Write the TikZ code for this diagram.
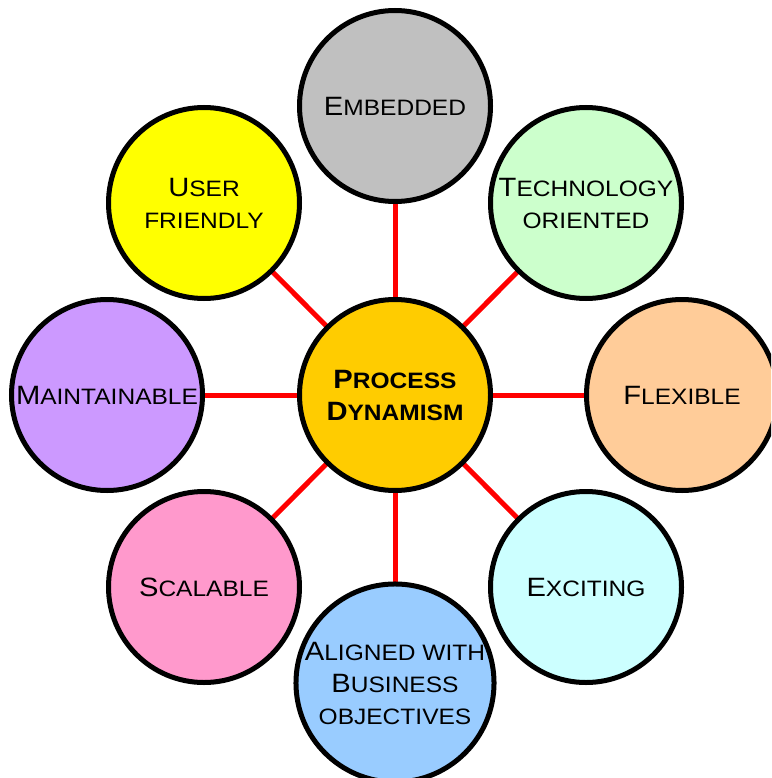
\documentclass[tikz,border=0pt]{standalone}
\usepackage{fontspec}
\setmainfont[FakeStretch=1.1]{Liberation Sans}
\newcommand\SC[1]{{\fontsize{26.5}{32}\selectfont #1}}
\definecolor{cCenter}{HTML}{FFCC00}
\definecolor{cEmb}{HTML}{C0C0C0}
\definecolor{cTech}{HTML}{CCFFCC}
\definecolor{cFlex}{HTML}{FFCC99}
\definecolor{cExc}{HTML}{CCFFFF}
\definecolor{cAlign}{HTML}{99CCFF}
\definecolor{cScal}{HTML}{FF99CC}
\definecolor{cMaint}{HTML}{CC99FF}
\definecolor{cUser}{HTML}{FFFF00}
\tikzset{
  bubble/.style={circle, draw=black, line width=5pt, minimum size=191pt, inner sep=0pt,
    align=center, font=\fontsize{22.3}{32}\selectfont},
  spoke/.style={draw=red, line width=5pt}
}
\begin{document}
\begin{tikzpicture}[x=1pt,y=-1pt]
\useasboundingbox (0,0) rectangle (771,778);
\clip (0,0) rectangle (771,778);
\coordinate (pc) at (395,395);
\coordinate (pe) at (395,106);
\coordinate (pt) at (586,203);
\coordinate (pf) at (682,395);
\coordinate (px) at (586,587);
\coordinate (pa) at (395,683);
\coordinate (ps) at (204,587);
\coordinate (pm) at (107,395);
\coordinate (pu) at (204,203);
\foreach \p in {pe,pt,pf,px,pa,ps,pm,pu} \draw[spoke] (pc) -- (\p);
\node[bubble, fill=cCenter, font=\fontsize{22.3}{32}\selectfont\bfseries] (center) at (pc) {\SC{P}ROCESS\\\SC{D}YNAMISM};
\node[bubble, fill=cEmb] (emb) at (pe) {\SC{E}MBEDDED};
\node[bubble, fill=cTech] (tech) at (pt) {\SC{T}ECHNOLOGY\\ORIENTED};
\node[bubble, fill=cFlex] (flex) at (pf) {\SC{F}LEXIBLE};
\node[bubble, fill=cExc] (exc) at (px) {\SC{E}XCITING};
\node[bubble, fill=cAlign] (align) at (pa) {\SC{A}LIGNED WITH\\\SC{B}USINESS\\OBJECTIVES};
\node[bubble, fill=cScal] (scal) at (ps) {\SC{S}CALABLE};
\node[bubble, fill=cMaint] (maint) at (pm) {\SC{M}AINTAINABLE};
\node[bubble, fill=cUser] (user) at (pu) {\SC{U}SER\\FRIENDLY};
\end{tikzpicture}
\end{document}
